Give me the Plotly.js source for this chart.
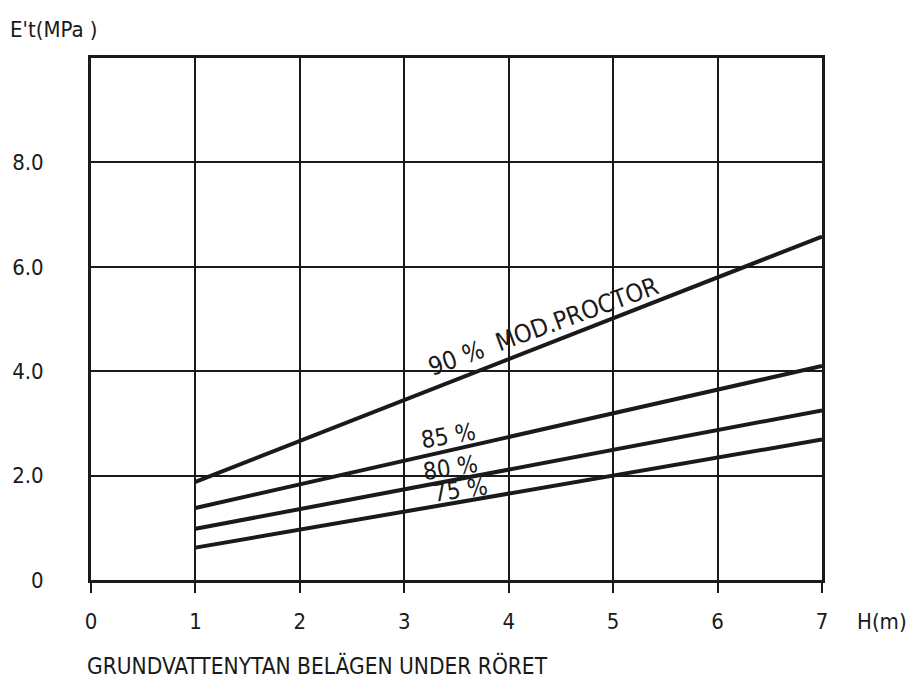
<!DOCTYPE html>
<html><head><meta charset="utf-8">
<script src="https://cdn.plot.ly/plotly-3.0.1.min.js"></script>
<style>html,body{margin:0;padding:0;background:#fff;}#c{width:923px;height:684px;}</style>
</head><body><div id="c"></div>
<script>
const H = [1, 7];
const E90 = [1.88, 6.58];
const E85 = [1.38, 4.10];
const E80 = [0.98, 3.25];
const E75 = [0.62, 2.69];
const seriesNames = ['90 %  MOD.PROCTOR', '85 %', '80 %', '75 %'];
const xTicks = [0, 1, 2, 3, 4, 5, 6, 7];
const yTicks = [0, 2, 4, 6, 8];
const yTickText = ['0', '2.0', '4.0', '6.0', '8.0'];

const FONT = '"DejaVu Sans Condensed", "Liberation Sans Narrow", sans-serif';
const INK = '#1a1a1a';

const allY = [E90, E85, E80, E75];
const traces = allY.map((ys, i) => ({
  x: H, y: ys, mode: 'lines', type: 'scatter', name: seriesNames[i],
  line: {color: INK, width: 4}, hoverinfo: 'skip'
}));

const labelPos = [
  {x: 4.33, y: 4.86, a: -20, s: 25},
  {x: 3.42, y: 2.76, a: -10, s: 24},
  {x: 3.44, y: 2.15, a: -9, s: 24},
  {x: 3.54, y: 1.72, a: -8, s: 24}
];
const annotations = seriesNames.map((t, i) => ({
  x: labelPos[i].x, y: labelPos[i].y, xref: 'x', yref: 'y', text: t,
  showarrow: false, textangle: labelPos[i].a,
  font: {family: FONT, size: labelPos[i].s, color: INK}
}));
annotations.push(
  {x: -0.1135, y: 1.054, xref: 'paper', yref: 'paper', xanchor: 'left', yanchor: 'middle',
   text: "E't(MPa )", showarrow: false, font: {family: FONT, size: 22, color: INK}},
  {x: 1.045, y: -0.080, xref: 'paper', yref: 'paper', xanchor: 'left', yanchor: 'middle',
   text: 'H(m)', showarrow: false, font: {family: FONT, size: 22, color: INK}},
  {x: -0.008, y: -0.163, xref: 'paper', yref: 'paper', xanchor: 'left', yanchor: 'middle',
   text: 'GRUNDVATTENYTAN BELÄGEN UNDER RÖRET', showarrow: false, font: {family: FONT, size: 22.5, color: INK}}
);

const layout = {
  width: 923, height: 684,
  margin: {l: 91, r: 101, t: 58, b: 104},
  paper_bgcolor: '#fff', plot_bgcolor: '#fff',
  showlegend: false,
  font: {family: FONT, size: 22, color: INK},
  xaxis: {
    range: [0, 7], tickvals: xTicks, ticktext: xTicks.map(String),
    showgrid: true, gridcolor: INK, gridwidth: 2,
    showline: true, linecolor: INK, linewidth: 3, mirror: true,
    ticks: 'outside', ticklen: 10, tickwidth: 2, tickcolor: INK,
    ticklabelstandoff: 10, zeroline: false, fixedrange: true
  },
  yaxis: {
    range: [0, 10], tickvals: yTicks, ticktext: yTickText,
    showgrid: true, gridcolor: INK, gridwidth: 2,
    showline: true, linecolor: INK, linewidth: 3, mirror: true,
    ticks: '', ticklabelstandoff: 40, zeroline: false, fixedrange: true
  },
  annotations: annotations
};
Plotly.newPlot('c', traces, layout, {displayModeBar: false, staticPlot: true});
</script></body></html>
